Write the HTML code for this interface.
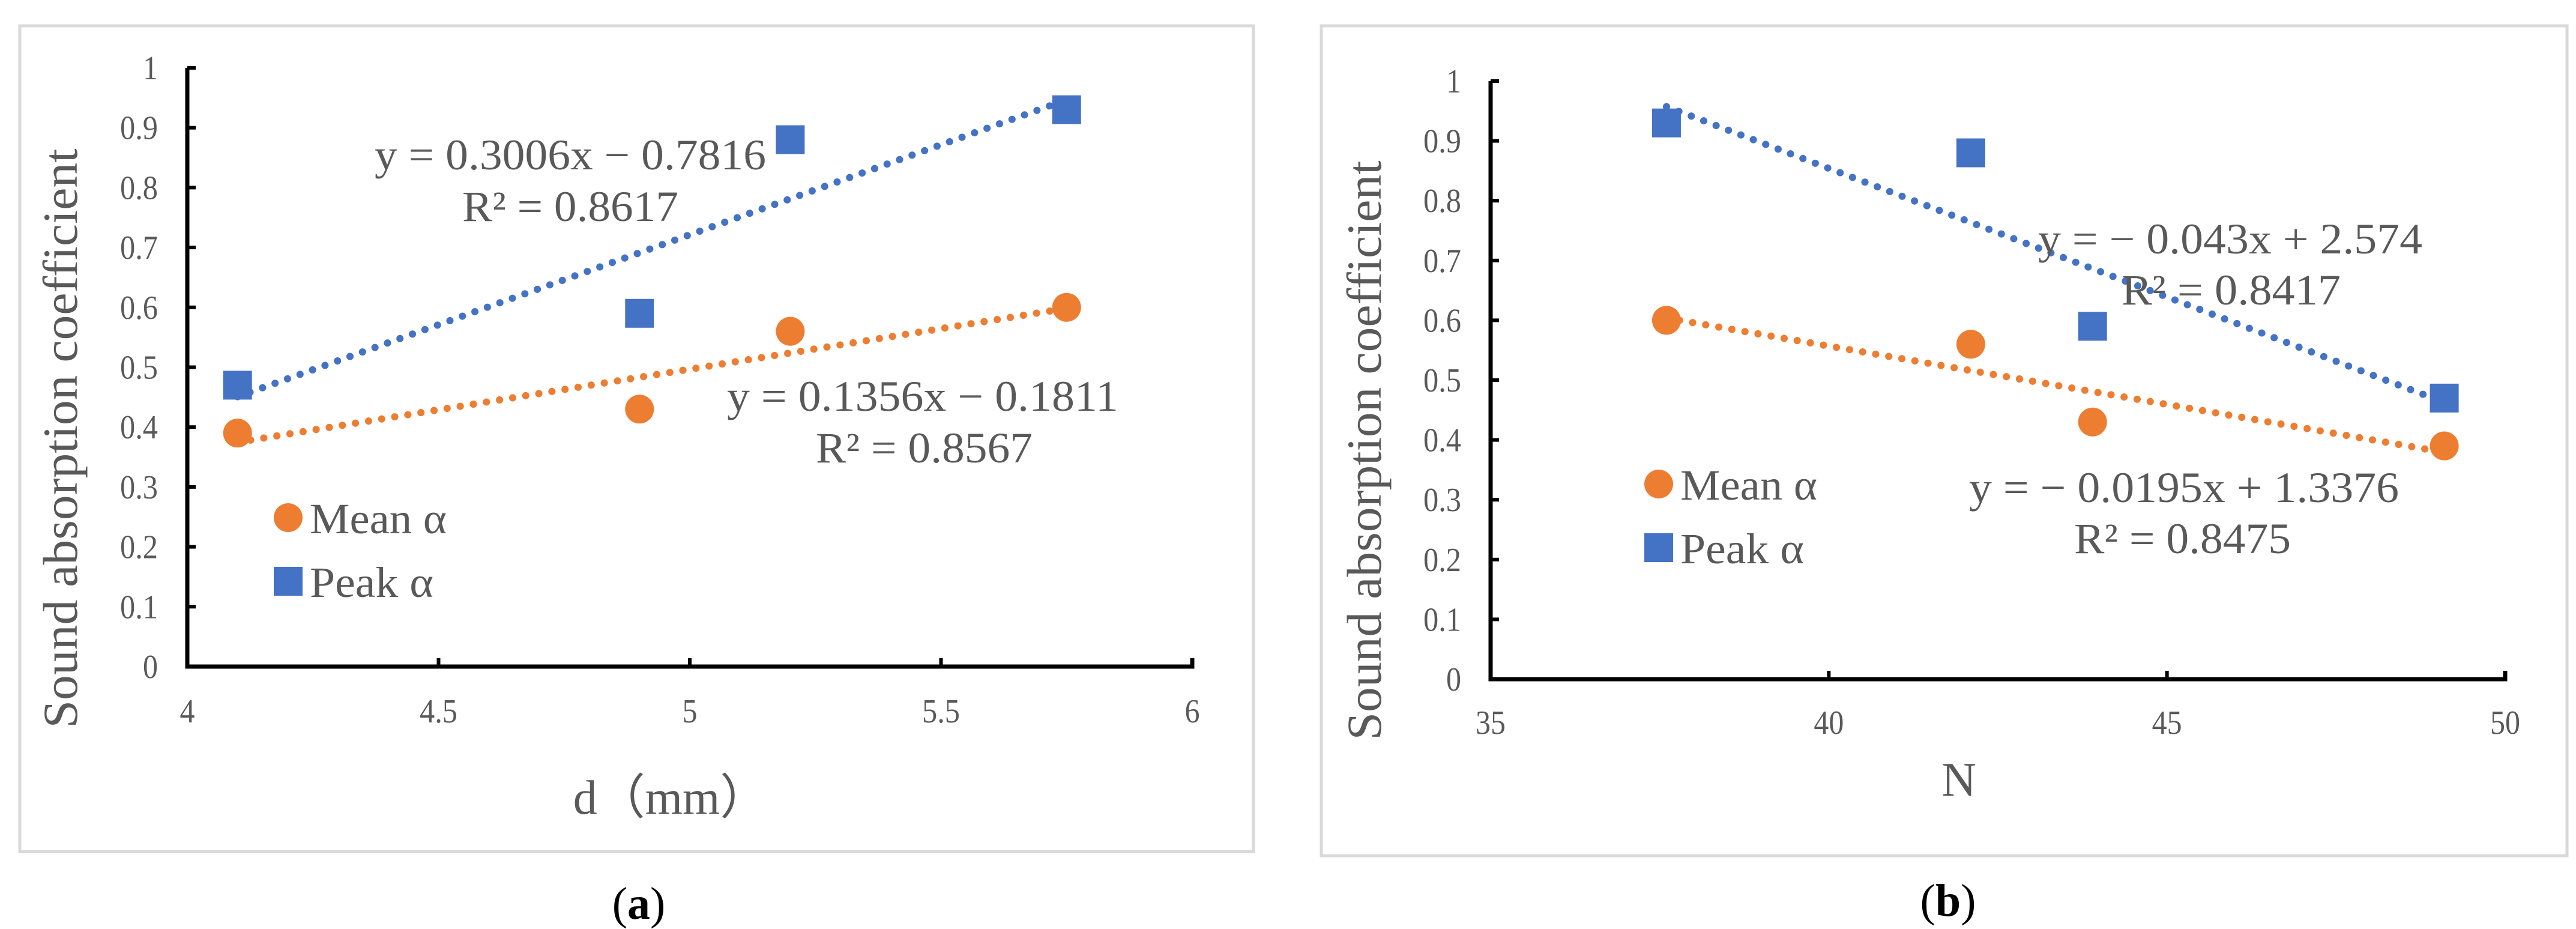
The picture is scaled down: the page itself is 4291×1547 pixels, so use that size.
<!DOCTYPE html>
<html><head><meta charset="utf-8"><style>
html,body{margin:0;padding:0;background:#fff}
svg{display:block}
text{font-family:"Liberation Serif",serif;fill:#595959}
</style></head><body>
<svg id="svg" width="4291" height="1547" viewBox="0 0 4291 1547" xmlns="http://www.w3.org/2000/svg"></svg>
<script>
// Panel (a) data
const dValues = [4.1, 4.9, 5.2, 5.75];
const meanA = [0.39, 0.43, 0.56, 0.60];
const peakA = [0.47, 0.59, 0.88, 0.93];
const xTicksA = ["4", "4.5", "5", "5.5", "6"];
// Panel (b) data
const nValues = [37.6, 42.1, 43.9, 49.1];
const meanB = [0.60, 0.56, 0.43, 0.39];
const peakB = [0.93, 0.88, 0.59, 0.47];
const xTicksB = ["35", "40", "45", "50"];
const yTicks = ["0", "0.1", "0.2", "0.3", "0.4", "0.5", "0.6", "0.7", "0.8", "0.9", "1"];

const NS = "http://www.w3.org/2000/svg";
const svg = document.getElementById('svg');
function mk(tag, attrs, parent, txt) {
  const e = document.createElementNS(NS, tag);
  for (const k in attrs) e.setAttribute(k, attrs[k]);
  if (txt !== undefined) e.textContent = txt;
  (parent || svg).appendChild(e);
  return e;
}
function tlen(s) { let w = 0; for (const c of s) w += (c === '.') ? 13 : 25; return w; }
function fit(xs, ys) {
  const n = xs.length; let sx=0, sy=0, sxx=0, sxy=0;
  for (let i=0;i<n;i++){sx+=xs[i];sy+=ys[i];sxx+=xs[i]*xs[i];sxy+=xs[i]*ys[i];}
  const m = (n*sxy-sx*sy)/(n*sxx-sx*sx); return [m, (sy-m*sx)/n];
}
const ORANGE = "#ED7D31", BLUE = "#4472C4";

function panel(cfg) {
  const g = mk('g', {});
  
  
  const fr = mk('rect', {x: cfg.frame[0], y: cfg.frame[1], width: cfg.frame[2], height: cfg.frame[3], fill: 'none', stroke: '#d9d9d9', 'stroke-width': 5}, g);
  
  
  const L = cfg.left, R = cfg.right, B = cfg.bottom, T = cfg.top;
  const xs = v => L + (v - cfg.xmin) / (cfg.xmax - cfg.xmin) * (R - L);
  const ys = v => B - v * (B - T);
  yTicks.forEach(t => {
    const y = ys(parseFloat(t));
    const tk = mk('line', {x1: L, x2: L + 14, y1: y, y2: y, stroke: '#000', 'stroke-width': 6}, g);
    
    
    const lb = mk('text', {x: cfg.ylabRight, y: y + 19, 'font-size': 56, 'text-anchor': 'end', textLength: tlen(t), lengthAdjust: 'spacingAndGlyphs'}, g, t);
    
    
  });
  cfg.xTicks.forEach(t => {
    const x = xs(parseFloat(t));
    const tk = mk('line', {x1: x, x2: x, y1: B, y2: B - 14, stroke: '#000', 'stroke-width': 6}, g);
    
    
    const lb = mk('text', {x: x, y: cfg.xlabY, 'font-size': 56, 'text-anchor': 'middle', textLength: tlen(t), lengthAdjust: 'spacingAndGlyphs'}, g, t);
    
    
  });
  const ax = mk('path', {d: `M${L},${T} L${L},${B} L${R},${B} L${R},${B-14}`, fill: 'none', stroke: '#000', 'stroke-width': 7}, g);
  
  
  [[cfg.mean, ORANGE, 'mean-trendline'], [cfg.peak, BLUE, 'peak-trendline']].forEach(([vals, col, nm]) => {
    const [m, b] = fit(cfg.x, vals);
    const x0 = Math.min(...cfg.x), x1 = Math.max(...cfg.x);
    const ln = mk('line', {x1: xs(x0), y1: ys(m*x0+b), x2: xs(x1), y2: ys(m*x1+b), stroke: col, 'stroke-width': 12, 'stroke-linecap': 'round', 'stroke-dasharray': '0.1 22'}, g);
    
    
  });
  cfg.x.forEach((xv, i) => {
    const c = mk('ellipse', {cx: xs(xv), cy: ys(cfg.mean[i]), rx: 24, ry: 24, fill: ORANGE}, g);
    
    
    const s = mk('rect', {x: xs(xv) - 24, y: ys(cfg.peak[i]) - 24, width: 48, height: 48, fill: BLUE}, g);
    
    
  });
  const yt = mk('text', {x: 0, y: 0, 'font-size': 82, 'text-anchor': 'middle', textLength: 965, lengthAdjust: 'spacingAndGlyphs', transform: `translate(${cfg.ytX},${cfg.ytY}) rotate(-90)`}, g, 'Sound absorption coefficient');
  
  
  const xt = mk('text', {x: cfg.xtX, y: cfg.xtY, 'font-size': 80, 'text-anchor': 'middle'}, g, cfg.xTitle);
  
  
  cfg.eqs.forEach(e => {
    const t = mk('text', {x: e[1], y: e[2], 'font-size': 72, textLength: e[3], lengthAdjust: 'spacingAndGlyphs'}, g, e[0]);
    
    
  });
  const lg = mk('g', {}, g);
  
  
  const [lx, ly1, ly2] = cfg.legend;
  const lc = mk('ellipse', {cx: lx, cy: ly1, rx: 24, ry: 24, fill: ORANGE}, lg);
  
  
  const lt1 = mk('text', {x: lx + 36, y: ly1 + 26, 'font-size': 72, textLength: 228, lengthAdjust: 'spacingAndGlyphs'}, lg, 'Mean α');
  
  
  const ls = mk('rect', {x: lx - 24, y: ly2 - 24, width: 48, height: 48, fill: BLUE}, lg);
  
  
  const lt2 = mk('text', {x: lx + 36, y: ly2 + 26, 'font-size': 72, textLength: 206, lengthAdjust: 'spacingAndGlyphs'}, lg, 'Peak α');
  
  
  const cap = mk('text', {x: cfg.cap[0], y: cfg.cap[1], 'font-size': 76, 'text-anchor': 'middle'}, g);
  
  
  mk('tspan', {style: 'fill:#000'}, cap, '(');
  mk('tspan', {style: 'fill:#000;font-weight:bold'}, cap, cfg.capLetter);
  mk('tspan', {style: 'fill:#000'}, cap, ')');
}

panel({name: 'panel-a', frame: [33, 43, 2055, 1375], left: 312, right: 1986, top: 113, bottom: 1110,
  xmin: 4, xmax: 6, x: dValues, mean: meanA, peak: peakA, xTicks: xTicksA,
  ylabRight: 263, xlabY: 1203, ytX: 128, ytY: 730, xtX: 1117, xtY: 1355, xTitle: 'd（mm）',
  eqs: [['y = 0.3006x − 0.7816', 624, 282, 652, 'peak-equation'], ['R² = 0.8617', 770, 368, 360, 'peak-r2'],
        ['y = 0.1356x − 0.1811', 1211, 684, 652, 'mean-equation'], ['R² = 0.8567', 1359, 770, 361, 'mean-r2']],
  legend: [480, 862, 968], cap: [1064, 1530], capLetter: 'a'});

panel({name: 'panel-b', frame: [2201, 43, 2075, 1382], left: 2483, right: 4173, top: 135, bottom: 1131,
  xmin: 35, xmax: 50, x: nValues, mean: meanB, peak: peakB, xTicks: xTicksB,
  ylabRight: 2434, xlabY: 1222, ytX: 2300, ytY: 750, xtX: 3263, xtY: 1325, xTitle: 'N',
  eqs: [['y = − 0.043x + 2.574', 3395, 422, 640, 'peak-equation'], ['R² = 0.8417', 3534, 507, 365, 'peak-r2'],
        ['y = − 0.0195x + 1.3376', 3280, 836, 716, 'mean-equation'], ['R² = 0.8475', 3455, 921, 361, 'mean-r2']],
  legend: [2763, 806, 912], cap: [3245, 1525], capLetter: 'b'});
</script>
</body></html>
